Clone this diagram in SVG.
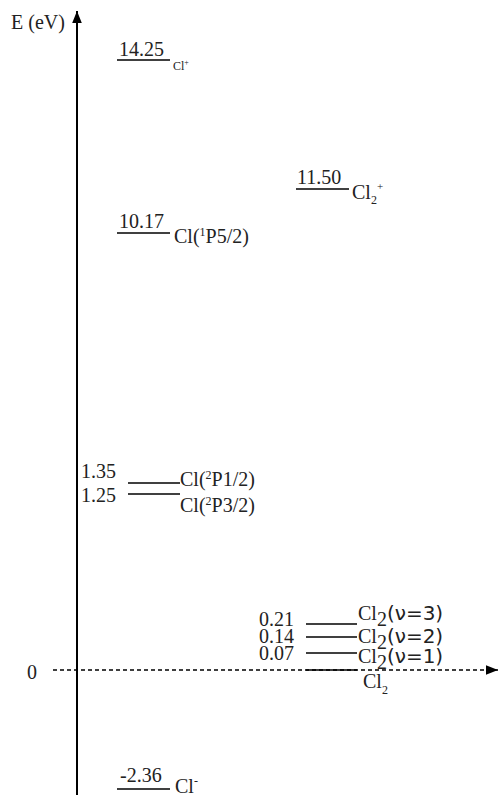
<svg xmlns="http://www.w3.org/2000/svg" width="499" height="795" viewBox="0 0 499 795">
<style>
.t{font-family:"Liberation Serif","DejaVu Serif",serif;font-size:20px;fill:#222}
.s{font-family:"Liberation Serif","DejaVu Serif",serif;fill:#222}
.d{font-family:"DejaVu Sans",sans-serif;font-size:20px;fill:#222}
.lv{stroke:#000;stroke-width:1.5;fill:none}
</style>
<defs>
<marker id="ah" viewBox="0 0 10 10" refX="10" refY="5" markerWidth="12" markerHeight="12" markerUnits="userSpaceOnUse" orient="auto">
<path d="M0,1 L10,5 L0,9 Z" fill="#000"/>
</marker>
</defs>
<g id="connectors">
<line x1="77" y1="795" x2="77" y2="11" stroke="#000" stroke-width="2" marker-end="url(#ah)"/>
<line x1="53" y1="670" x2="498" y2="670" stroke="#000" stroke-width="1.5" stroke-dasharray="4,3" marker-end="url(#ah)"/>
</g>
<g id="axis-labels">
<text class="t" x="11" y="29">E (eV)</text>
<text class="t" x="27" y="679">0</text>
</g>
<g id="cl-plus">
<line class="lv" x1="117" y1="60" x2="170" y2="60"/>
<text class="t" x="119" y="56">14.25</text>
<text class="s" x="173" y="70" font-size="12">Cl<tspan font-size="8" dy="-5">+</tspan></text>
</g>
<g id="cl-1p52">
<line class="lv" x1="117" y1="233" x2="170" y2="233"/>
<text class="t" x="119" y="228">10.17</text>
<text class="t" x="174" y="243">Cl(<tspan font-size="12" dy="-7">1</tspan><tspan dy="7">P5/2)</tspan></text>
</g>
<g id="cl2-plus">
<line class="lv" x1="296" y1="189" x2="349" y2="189"/>
<text class="t" x="297" y="184">11.50</text>
<text class="t" x="352" y="199">Cl<tspan font-size="12" dy="5">2</tspan><tspan font-size="11" dy="-14">+</tspan></text>
</g>
<g id="cl-2p12">
<text class="t" x="81" y="478">1.35</text>
<line class="lv" x1="128" y1="483" x2="180" y2="483"/>
<text class="t" x="180" y="486">Cl(<tspan font-size="12" dy="-7">2</tspan><tspan dy="7">P1/2)</tspan></text>
</g>
<g id="cl-2p32">
<text class="t" x="81" y="502">1.25</text>
<line class="lv" x1="128" y1="494" x2="180" y2="494"/>
<text class="t" x="180" y="512">Cl(<tspan font-size="12" dy="-7">2</tspan><tspan dy="7">P3/2)</tspan></text>
</g>
<g id="cl2-v3">
<text class="t" x="259" y="626">0.21</text>
<line class="lv" x1="306" y1="624" x2="357" y2="624"/>
<text x="358" y="620"><tspan class="t">Cl</tspan><tspan class="t" font-size="12" dy="6">2</tspan><tspan class="d" dy="-6">(ν=3)</tspan></text>
</g>
<g id="cl2-v2">
<text class="t" x="259" y="643">0.14</text>
<line class="lv" x1="306" y1="637" x2="357" y2="637"/>
<text x="358" y="643"><tspan class="t">Cl</tspan><tspan class="t" font-size="12" dy="6">2</tspan><tspan class="d" dy="-6">(ν=2)</tspan></text>
</g>
<g id="cl2-v1">
<text class="t" x="259" y="660">0.07</text>
<line class="lv" x1="306" y1="653" x2="357" y2="653"/>
<text x="358" y="663"><tspan class="t">Cl</tspan><tspan class="t" font-size="12" dy="6">2</tspan><tspan class="d" dy="-6">(ν=1)</tspan></text>
</g>
<g id="cl2-ground">
<line class="lv" x1="306" y1="670" x2="357" y2="670"/>
<text class="t" x="363" y="688">Cl<tspan font-size="12" dy="6">2</tspan></text>
</g>
<g id="cl-minus">
<line class="lv" x1="117" y1="789" x2="170" y2="789"/>
<text class="t" x="120" y="782">-2.36</text>
<text class="t" x="175" y="793">Cl<tspan font-size="12" dy="-8">-</tspan></text>
</g>
</svg>
